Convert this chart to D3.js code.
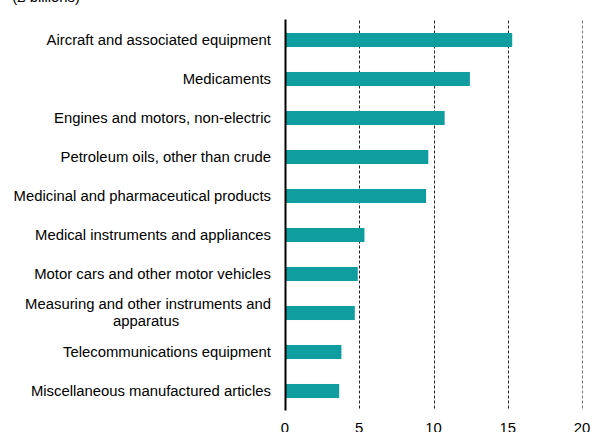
<!DOCTYPE html>
<html>
<head>
<meta charset="utf-8">
<script src="https://cdn.jsdelivr.net/npm/d3@7"></script>
<style>
  body { margin: 0; background: #fff; }
  svg { display: block; font-family: "Liberation Sans", Arial, sans-serif; }
</style>
</head>
<body>
<div id="chart"></div>
<script>
// values
var products = [
  "Aircraft and associated equipment",
  "Medicaments",
  "Engines and motors, non-electric",
  "Petroleum oils, other than crude",
  "Medicinal and pharmaceutical products",
  "Medical instruments and appliances",
  "Motor cars and other motor vehicles",
  "Measuring and other instruments and|apparatus",
  "Telecommunications equipment",
  "Miscellaneous manufactured articles"
];
var exportValues = [15.3, 12.45, 10.75, 9.65, 9.5, 5.35, 4.9, 4.7, 3.8, 3.65];
var xTicks = [0, 5, 10, 15, 20];
var unitLabel = "(£ billions)";

var width = 592, height = 432;
var plotLeft = 285, plotRight = 582, plotTop = 20.5, plotBottom = 410.5;
var barColor = "#109da0";
var fontSize = 14.85;

var svg = d3.select("#chart").append("svg")
    .attr("width", width)
    .attr("height", height);

var x = d3.scaleLinear()
    .domain([0, 20])
    .range([plotLeft, plotRight]);

var y = d3.scaleBand()
    .domain(products)
    .range([plotTop, plotBottom])
    .paddingInner(0.64)
    .paddingOuter(0.32);

// unit text, mostly cut off at the top
svg.append("text")
    .attr("x", 80)
    .attr("y", 2)
    .attr("text-anchor", "end")
    .attr("font-size", fontSize)
    .attr("fill", "#000")
    .text(unitLabel);

// dashed gridlines
svg.append("g")
  .selectAll("line")
  .data(xTicks.filter(function(d) { return d > 0; }))
  .enter().append("line")
    .attr("x1", function(d) { return Math.round(x(d)) + 0.5; })
    .attr("x2", function(d) { return Math.round(x(d)) + 0.5; })
    .attr("y1", plotTop)
    .attr("y2", plotBottom)
    .attr("stroke", function(d) { return d == 20 ? "#777" : "#222"; })
    .attr("stroke-width", 1)
    .attr("stroke-dasharray", "3,2");

// bars
svg.append("g")
  .selectAll("rect")
  .data(products)
  .enter().append("rect")
    .attr("x", x(0))
    .attr("y", function(d) { return y(d); })
    .attr("width", function(d, i) { return x(exportValues[i]) - x(0); })
    .attr("height", y.bandwidth())
    .attr("fill", barColor);

// y axis line
svg.append("line")
    .attr("x1", x(0) + 0.5)
    .attr("x2", x(0) + 0.5)
    .attr("y1", plotTop - 1)
    .attr("y2", plotBottom)
    .attr("stroke", "#000")
    .attr("stroke-width", 2);

// x tick labels
svg.append("g")
  .selectAll("text")
  .data(xTicks)
  .enter().append("text")
    .attr("x", function(d) { return x(d); })
    .attr("y", 433)
    .attr("text-anchor", "middle")
    .attr("font-size", fontSize)
    .attr("fill", "#000")
    .text(function(d) { return d; });

// category labels, right aligned; wrapped lines centred under the first
var labels = svg.append("g")
  .selectAll("text")
  .data(products)
  .enter().append("text")
    .attr("font-size", fontSize)
    .attr("fill", "#000");

labels.each(function(d) {
  var t = d3.select(this);
  var lines = d.split("|");
  var cy = y(d) + y.bandwidth() / 2;
  var labelX = 271;
  if (lines.length == 1) {
    t.attr("x", labelX).attr("y", cy + 5).attr("text-anchor", "end").text(lines[0]);
  } else {
    var first = t.append("tspan").attr("text-anchor", "end")
        .attr("x", labelX).attr("y", cy - 4).text(lines[0]);
    var w = first.node().getComputedTextLength();
    t.append("tspan").attr("text-anchor", "middle")
        .attr("x", labelX - w / 2 - 2).attr("y", cy + 13).text(lines[1]);
  }
});
</script>
</body>
</html>
